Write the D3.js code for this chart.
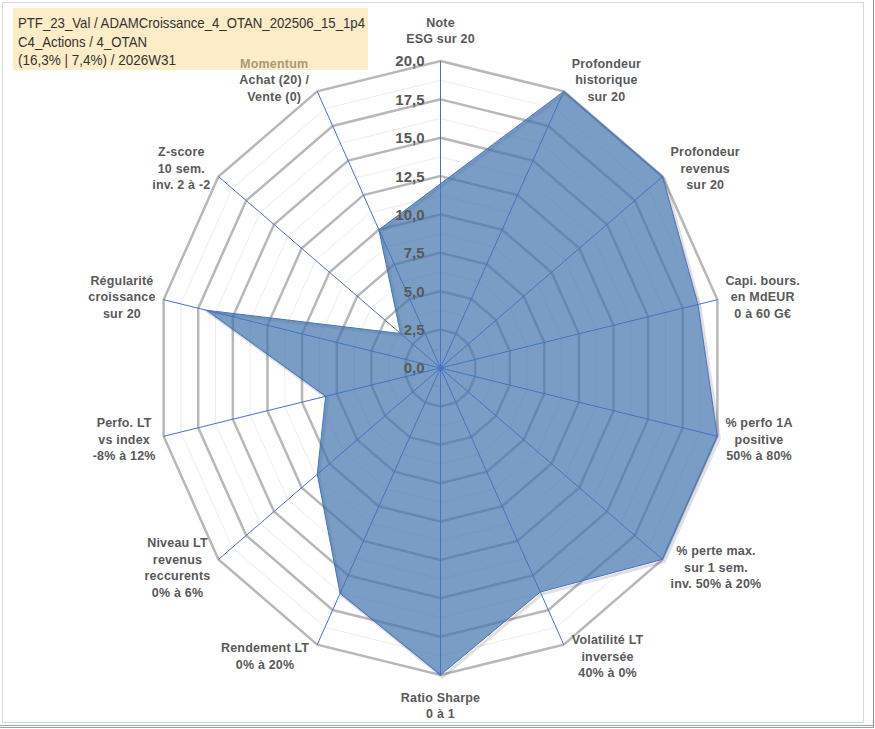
<!DOCTYPE html>
<html>
<head>
<meta charset="utf-8">
<script src="https://cdn.jsdelivr.net/npm/d3@7"></script>
<style>
  html, body { margin: 0; padding: 0; background: #fff; }
  #radar { width: 875px; height: 729px; }
  text { font-family: "Liberation Sans", Arial, sans-serif; }
</style>
</head>
<body>
<div id="radar"></div>
<script>
// axis labels (clockwise from the top), one entry per line
const axisLabels = [
  ["Note", "ESG sur 20"],
  ["Profondeur", "historique", "sur 20"],
  ["Profondeur", "revenus", "sur 20"],
  ["Capi. bours.", "en MdEUR", "0 à 60 G€"],
  ["% perfo 1A", "positive", "50% à 80%"],
  ["% perte max.", "sur 1 sem.", "inv. 50% à 20%"],
  ["Volatilité LT", "inversée", "40% à 0%"],
  ["Ratio Sharpe", "0 à 1"],
  ["Rendement LT", "0% à 20%"],
  ["Niveau LT", "revenus", "reccurents", "0% à 6%"],
  ["Perfo. LT", "vs index", "-8% à 12%"],
  ["Régularité", "croissance", "sur 20"],
  ["Z-score", "10 sem.", "inv. 2 à -2"],
  ["Momentum", "Achat (20) /", "Vente (0)"]
];

const scores = [12, 20, 20, 18.6, 20, 20, 16.2, 20, 16.3, 11.1, 8.3, 16.9, 3.6, 10];

const majorTicks = [0, 2.5, 5, 7.5, 10, 12.5, 15, 17.5, 20];
const minorTicks = [1.25, 3.75, 6.25, 8.75, 11.25, 13.75, 16.25, 18.75];

const titleLines = [
  "PTF_23_Val / ADAMCroissance_4_OTAN_202506_15_1p4",
  "C4_Actions / 4_OTAN",
  "(16,3% | 7,4%) / 2026W31"
];
const titleWidths = [347, 129, 158];

const W = 875, H = 729;
const cx = 440.5, cy = 368;

const svg = d3.select("#radar").append("svg")
  .attr("width", W)
  .attr("height", H);

// frame
svg.append("rect")
  .attr("x", 2.5).attr("y", 2.5)
  .attr("width", 861).attr("height", 720)
  .attr("fill", "#fff")
  .attr("stroke", "#d9d9d9");
svg.append("line")
  .attr("x1", 873.5).attr("x2", 873.5).attr("y1", 0).attr("y2", 727)
  .attr("stroke", "#8a8a8a");
svg.append("line")
  .attr("x1", 0).attr("x2", 874).attr("y1", 725.5).attr("y2", 725.5)
  .attr("stroke", "#8fb58f");
svg.append("line")
  .attr("x1", 0).attr("x2", 874).attr("y1", 727.5).attr("y2", 727.5)
  .attr("stroke", "#a0a0a0");

// the plot is a little squeezed horizontally, like the source picture
const rx = d3.scaleLinear().domain([0, 20]).range([0, 284]);
const ry = d3.scaleLinear().domain([0, 20]).range([0, 307]);
const angle = d3.scaleLinear().domain([0, axisLabels.length]).range([0, 2 * Math.PI]);

const px = (i, v) => cx + rx(v) * Math.sin(angle(i));
const py = (i, v) => cy - ry(v) * Math.cos(angle(i));
const idx = d3.range(axisLabels.length);

const ring = v => idx.map(i => [px(i, v), py(i, v)]);
const closed = d3.line().curve(d3.curveLinearClosed);

const chart = svg.append("g");

// minor rings
chart.append("g").selectAll("path")
  .data(minorTicks)
  .join("path")
  .attr("d", v => closed(ring(v)))
  .attr("fill", "none")
  .attr("stroke", "#ececec")
  .attr("stroke-width", 1);

// major rings
chart.append("g").selectAll("path")
  .data(majorTicks.filter(v => v > 0))
  .join("path")
  .attr("d", v => closed(ring(v)))
  .attr("fill", "none")
  .attr("stroke", "#b8b8b8")
  .attr("stroke-width", 2.5)
  .attr("stroke-linejoin", "miter");

// series
const seriesPts = scores.map((v, i) => [px(i, v), py(i, v)]);
// soft shadow, offset down-right, under the fill
chart.append("path")
  .attr("d", closed(seriesPts))
  .attr("transform", "translate(2,2)")
  .attr("fill", "none")
  .attr("stroke", "#000")
  .attr("stroke-opacity", 0.12)
  .attr("stroke-width", 3);
chart.append("path")
  .attr("d", closed(seriesPts))
  .attr("fill", "#4173ae")
  .attr("fill-opacity", 0.7)
  .attr("stroke", "#4472c4")
  .attr("stroke-width", 1);

// spokes
chart.append("g").selectAll("line")
  .data(idx)
  .join("line")
  .attr("x1", cx).attr("y1", cy)
  .attr("x2", i => px(i, 20))
  .attr("y2", i => py(i, 20))
  .attr("stroke", "#4472c4")
  .attr("stroke-width", 1);

// value ticks along the top spoke
chart.append("g").selectAll("text")
  .data(majorTicks)
  .join("text")
  .attr("x", cx - 16)
  .attr("y", v => py(0, v))
  .attr("dy", "0.36em")
  .attr("text-anchor", "end")
  .attr("font-size", 15)
  .attr("font-weight", "bold")
  .attr("fill", "#595959")
  .text(v => d3.format(".1f")(v).replace(".", ","));

// axis labels, one text per line, group placed outside the spoke end
const lineH = 16.5;
const labelG = svg.append("g");
idx.forEach(i => {
  const a = angle(i);
  const s = Math.sin(a), c = Math.cos(a);
  const lines = axisLabels[i];
  const g = labelG.append("g");
  g.selectAll("text")
    .data(lines)
    .join("text")
    .attr("x", 0)
    .attr("y", (l, k) => (k - (lines.length - 1) / 2) * lineH)
    .attr("dy", "0.35em")
    .attr("text-anchor", "middle")
    .attr("font-size", 12.5)
    .attr("font-weight", "bold")
    .attr("letter-spacing", 0.2)
    .attr("fill", "#595959")
    .text(l => l);
  const hw = g.node().getBBox().width / 2;
  const hh = lines.length * lineH / 2;
  let x, y;
  if (Math.abs(s) < 0.01) {
    x = px(i, 20);
    y = py(i, 20) - Math.sign(c) * (hh + 14);
  } else {
    x = px(i, 20) + Math.sign(s) * (hw + 8);
    y = py(i, 20) - c * 13;
  }
  g.attr("transform", `translate(${x},${y})`);
});

// title box (semi transparent, sits over the top-left label)
svg.append("rect")
  .attr("x", 13).attr("y", 8)
  .attr("width", 355).attr("height", 62)
  .attr("fill", "rgb(249,217,146)")
  .attr("fill-opacity", 0.5);

svg.append("g").selectAll("text")
  .data(titleLines)
  .join("text")
  .attr("x", 18)
  .attr("y", (d, k) => 28 + k * 18.5)
  .attr("font-size", 15)
  .attr("fill", "#333")
  .attr("textLength", (d, k) => titleWidths[k])
  .attr("lengthAdjust", "spacingAndGlyphs")
  .text(d => d);
</script>
</body>
</html>
